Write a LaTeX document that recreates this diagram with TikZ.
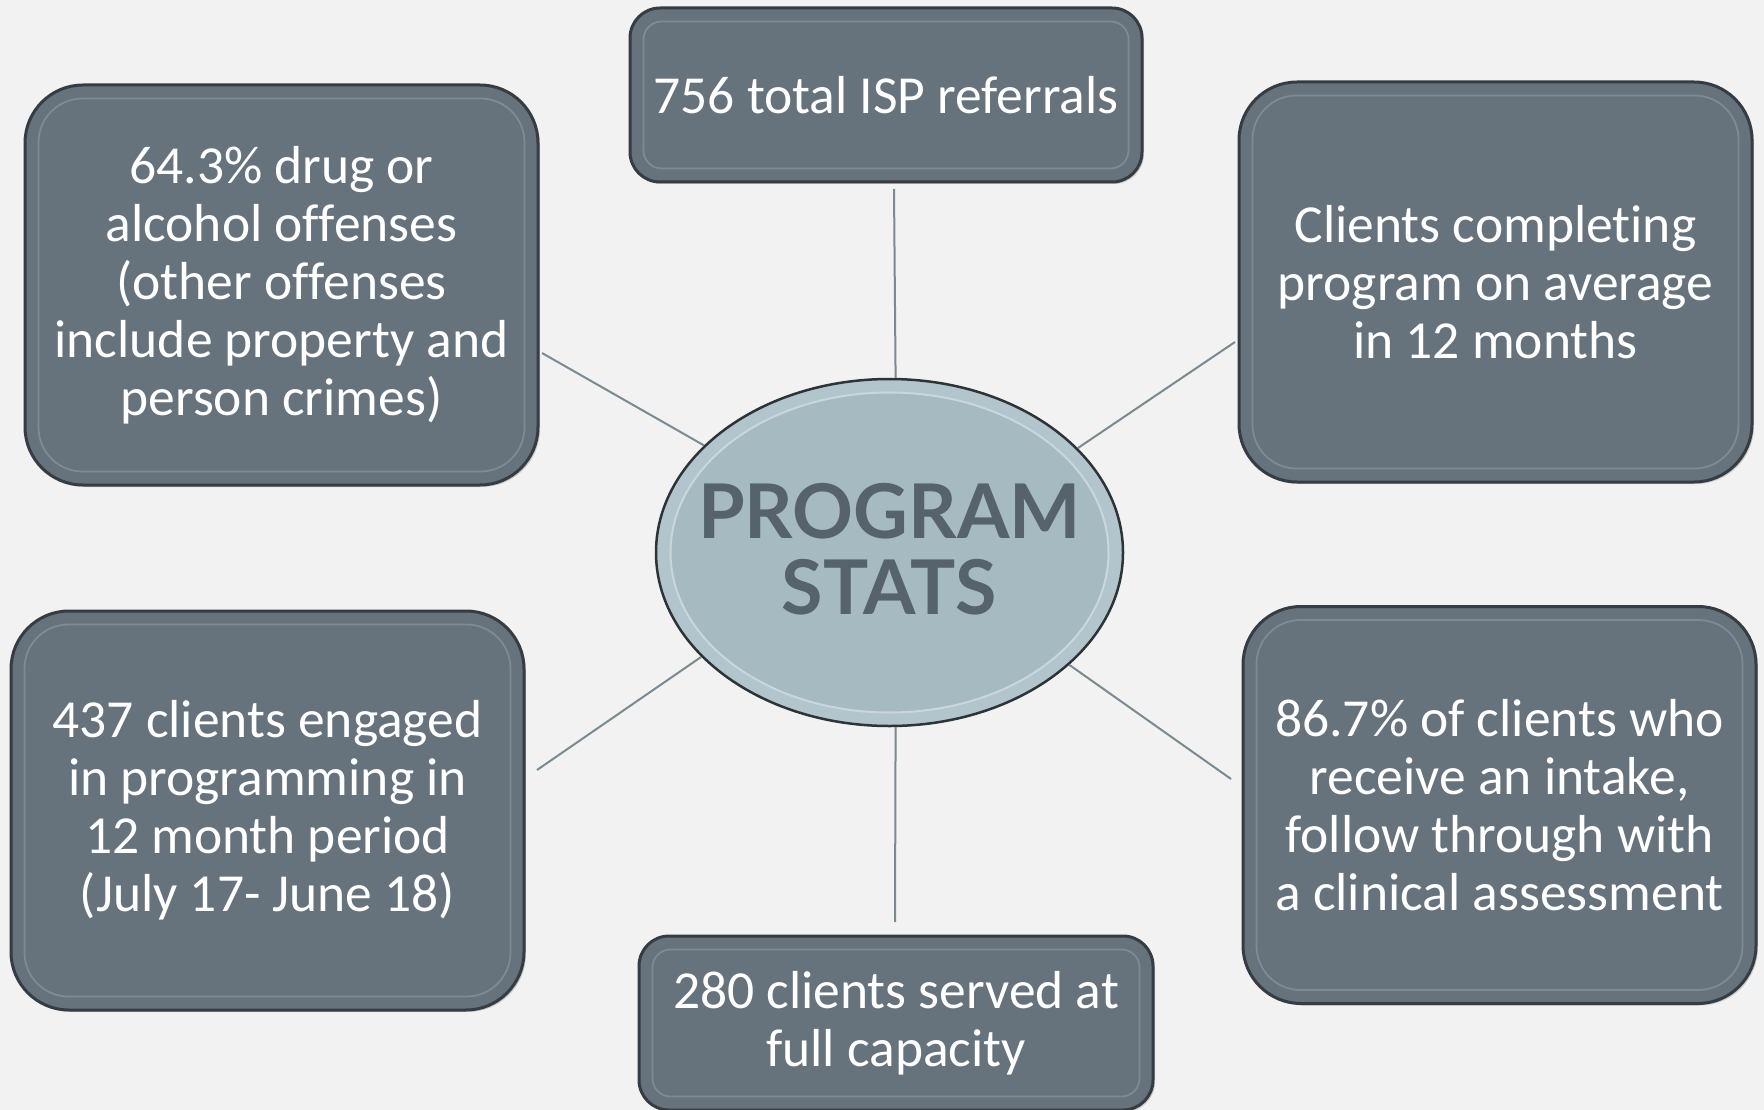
\documentclass[tikz,border=0pt]{standalone}
\usepackage{fontspec}
\setmainfont{Carlito}[Ligatures=NoCommon]
\newfontfamily\titlefont{Lato}
\usetikzlibrary{shapes.geometric,shadows}
\definecolor{bg}{HTML}{F2F2F2}
\definecolor{boxfill}{HTML}{66727C}
\definecolor{boxedge}{HTML}{353D43}
\definecolor{bevelc}{HTML}{7E8A94}
\definecolor{ellfill}{HTML}{A6BAC2}
\definecolor{ellband}{HTML}{B3C5CC}
\definecolor{ellline}{HTML}{2C3438}
\definecolor{ellinner}{HTML}{C9D7DC}
\definecolor{titlec}{HTML}{56636D}
\definecolor{connc}{HTML}{7A8A91}
\tikzset{
  statbox/.style={rectangle, rounded corners=58pt, fill=boxfill, draw=boxedge,
    line width=3pt, text=white, align=center, inner sep=0pt,
    minimum width=513pt, minimum height=400pt,
    font=\fontsize{53.5}{58}\selectfont,
    drop shadow={shadow xshift=2pt, shadow yshift=-2pt, opacity=0.35}},
  smallbox/.style={statbox, rounded corners=30pt, minimum height=174pt},
  bevel/.style={draw=bevelc, line width=1.8pt},
  conn/.style={draw=connc, line width=2pt}
}
\begin{document}
\begin{tikzpicture}[x=1pt,y=-1pt]
\fill[bg] (0,0) rectangle (1764,1110);
\useasboundingbox (0,0) rectangle (1764,1110);

% boxes
\node[smallbox, minimum width=512pt] (top) at (886,95) {756 total ISP referrals};
\node[statbox] (tl) at (281.5,285) {64.3\% drug or\\alcohol of\kern0pt fenses\\(other of\kern0pt fenses\\include property and\\person crimes)};
\node[statbox] (tr) at (1495.5,282) {Clients complet\kern0pt ing\\program on average\\in 12 months};
\node[statbox, minimum height=399pt] (bl) at (267.5,810.5) {437 clients engaged\\in programming in\\12 month period\\(July 17- June 18)};
\node[statbox, minimum height=397pt] (br) at (1499.5,805) {86.7\% of clients who\\receive an intake,\\follow through with\\a clinical assessment};
\node[smallbox, minimum width=514pt] (bot) at (896,1023) {280 clients served at\\full capacity};

% bevels
\foreach \b in {tl,tr,bl,br}{
  \draw[bevel, rounded corners=44pt] ([shift={(15pt,-15pt)}]\b.north west) rectangle ([shift={(-15pt,15pt)}]\b.south east);
}
\foreach \b in {top,bot}{
  \draw[bevel, rounded corners=18pt] ([shift={(15pt,-15pt)}]\b.north west) rectangle ([shift={(-15pt,15pt)}]\b.south east);
}

% ellipse
\node[ellipse, minimum width=467pt, minimum height=347pt, fill=ellband, draw=ellline,
  line width=2.5pt, inner sep=0pt] (ell) at (889.5,552.5) {};
\fill[ellfill, draw=ellinner, line width=2pt] (ell.center) ellipse [x radius=219pt, y radius=160pt];
\node[text=titlec, align=center, inner sep=0pt,
  font=\titlefont\bfseries\fontsize{75.5}{76}\selectfont] (title) at (889.5,549) {PROGRAM\\STATS};

% connectors
\coordinate (ctop) at (894,189);
\coordinate (ctl) at (542,353);
\coordinate (ctr) at (1235,342);
\coordinate (cbl) at (537,770);
\coordinate (cbr) at (1231,779);
\coordinate (cbot) at (895,922);
\draw[conn] (ctop) -- (ell.88);
\draw[conn] (ctl) -- (ell.150);
\draw[conn] (ctr) -- (ell.29);
\draw[conn] (cbl) -- (ell.209);
\draw[conn] (cbr) -- (ell.328);
\draw[conn] (cbot) -- (ell.272);
\end{tikzpicture}
\end{document}
